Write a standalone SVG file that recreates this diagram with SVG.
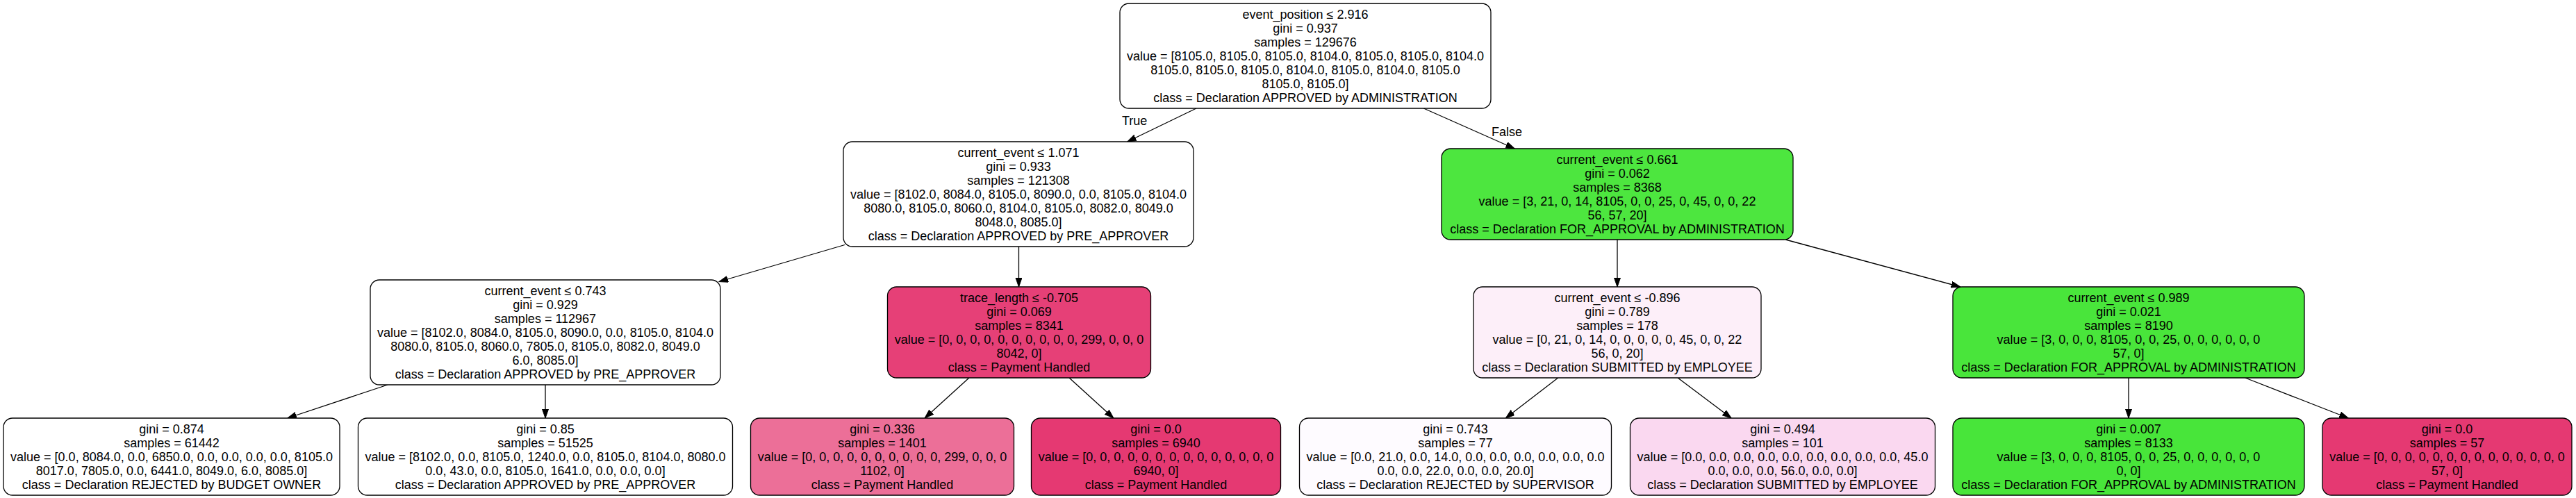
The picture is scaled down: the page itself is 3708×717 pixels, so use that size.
<svg xmlns="http://www.w3.org/2000/svg" width="3708" height="717" viewBox="0 0 3708 717">
<defs>
<style>
.nd rect { stroke: #000; stroke-width: 1.3; }
text { font-family: "Liberation Sans", Arial, Helvetica, sans-serif; font-size: 18px; text-anchor: middle; fill: #000; }
.ed line { stroke: #000; stroke-width: 1.3; marker-end: url(#arr); }
.lbl { text-anchor: start; }
</style>
<marker id="arr" markerUnits="userSpaceOnUse" markerWidth="14" markerHeight="10" refX="13" refY="4.5" orient="auto">
<path d="M0,0 L13,4.5 L0,9 z" fill="#000" stroke="#000" stroke-width="1"/>
</marker>
</defs>
<rect x="0" y="0" width="3708" height="717" fill="#fff"/>

<g id="connectors" class="ed">
<line x1="1722" y1="156" x2="1622.7" y2="204"/>
<line x1="2049.3" y1="156" x2="2180.2" y2="214"/>
<line x1="1216" y1="352.5" x2="1035" y2="405.5"/>
<line x1="1466.5" y1="355" x2="1466.5" y2="413"/>
<line x1="2328" y1="345" x2="2328" y2="413"/>
<line x1="2570.2" y1="345" x2="2821.8" y2="413"/>
<line x1="558.1" y1="554" x2="413.8" y2="602"/>
<line x1="785" y1="554" x2="785" y2="602"/>
<line x1="1394.9" y1="544" x2="1331.1" y2="602"/>
<line x1="1539.1" y1="544" x2="1602.9" y2="602"/>
<line x1="2242.7" y1="544" x2="2167.3" y2="602"/>
<line x1="2415.1" y1="544" x2="2492.2" y2="602"/>
<line x1="3064" y1="544" x2="3064" y2="602"/>
<line x1="3231.8" y1="544" x2="3380.3" y2="602"/>
<text class="lbl" x="1615" y="180">True</text>
<text class="lbl" x="2147" y="196">False</text>
</g>

<g id="node0" class="nd">
<rect x="1612" y="5" width="534" height="151" rx="13" fill="#ffffff"/>
<text x="1879"><tspan x="1879" y="26.5">event_position ≤ 2.916</tspan><tspan x="1879" y="46.5">gini = 0.937</tspan><tspan x="1879" y="66.5">samples = 129676</tspan><tspan x="1879" y="86.5">value = [8105.0, 8105.0, 8105.0, 8104.0, 8105.0, 8105.0, 8104.0</tspan><tspan x="1879" y="106.5">8105.0, 8105.0, 8105.0, 8104.0, 8105.0, 8104.0, 8105.0</tspan><tspan x="1879" y="126.5">8105.0, 8105.0]</tspan><tspan x="1879" y="146.5">class = Declaration APPROVED by ADMINISTRATION</tspan></text>
</g>

<g id="node1" class="nd">
<rect x="1214" y="204" width="504" height="151" rx="13" fill="#ffffff"/>
<text x="1466"><tspan x="1466" y="225.5">current_event ≤ 1.071</tspan><tspan x="1466" y="245.5">gini = 0.933</tspan><tspan x="1466" y="265.5">samples = 121308</tspan><tspan x="1466" y="285.5">value = [8102.0, 8084.0, 8105.0, 8090.0, 0.0, 8105.0, 8104.0</tspan><tspan x="1466" y="305.5">8080.0, 8105.0, 8060.0, 8104.0, 8105.0, 8082.0, 8049.0</tspan><tspan x="1466" y="325.5">8048.0, 8085.0]</tspan><tspan x="1466" y="345.5">class = Declaration APPROVED by PRE_APPROVER</tspan></text>
</g>

<g id="node8" class="nd">
<rect x="2075" y="214" width="506" height="131" rx="13" fill="#4de63f"/>
<text x="2328"><tspan x="2328" y="235.5">current_event ≤ 0.661</tspan><tspan x="2328" y="255.5">gini = 0.062</tspan><tspan x="2328" y="275.5">samples = 8368</tspan><tspan x="2328" y="295.5">value = [3, 21, 0, 14, 8105, 0, 0, 25, 0, 45, 0, 0, 22</tspan><tspan x="2328" y="315.5">56, 57, 20]</tspan><tspan x="2328" y="335.5">class = Declaration FOR_APPROVAL by ADMINISTRATION</tspan></text>
</g>

<g id="node2" class="nd">
<rect x="533" y="403" width="504" height="151" rx="13" fill="#ffffff"/>
<text x="785"><tspan x="785" y="424.5">current_event ≤ 0.743</tspan><tspan x="785" y="444.5">gini = 0.929</tspan><tspan x="785" y="464.5">samples = 112967</tspan><tspan x="785" y="484.5">value = [8102.0, 8084.0, 8105.0, 8090.0, 0.0, 8105.0, 8104.0</tspan><tspan x="785" y="504.5">8080.0, 8105.0, 8060.0, 7805.0, 8105.0, 8082.0, 8049.0</tspan><tspan x="785" y="524.5">6.0, 8085.0]</tspan><tspan x="785" y="544.5">class = Declaration APPROVED by PRE_APPROVER</tspan></text>
</g>

<g id="node5" class="nd">
<rect x="1277.5" y="413" width="379" height="131" rx="13" fill="#e64077"/>
<text x="1467"><tspan x="1467" y="434.5">trace_length ≤ -0.705</tspan><tspan x="1467" y="454.5">gini = 0.069</tspan><tspan x="1467" y="474.5">samples = 8341</tspan><tspan x="1467" y="494.5">value = [0, 0, 0, 0, 0, 0, 0, 0, 0, 0, 299, 0, 0, 0</tspan><tspan x="1467" y="514.5">8042, 0]</tspan><tspan x="1467" y="534.5">class = Payment Handled</tspan></text>
</g>

<g id="node9" class="nd">
<rect x="2121" y="413" width="414" height="131" rx="13" fill="#fdeff9"/>
<text x="2328"><tspan x="2328" y="434.5">current_event ≤ -0.896</tspan><tspan x="2328" y="454.5">gini = 0.789</tspan><tspan x="2328" y="474.5">samples = 178</tspan><tspan x="2328" y="494.5">value = [0, 21, 0, 14, 0, 0, 0, 0, 0, 45, 0, 0, 22</tspan><tspan x="2328" y="514.5">56, 0, 20]</tspan><tspan x="2328" y="534.5">class = Declaration SUBMITTED by EMPLOYEE</tspan></text>
</g>

<g id="node12" class="nd">
<rect x="2811" y="413" width="506" height="131" rx="13" fill="#49e53b"/>
<text x="3064"><tspan x="3064" y="434.5">current_event ≤ 0.989</tspan><tspan x="3064" y="454.5">gini = 0.021</tspan><tspan x="3064" y="474.5">samples = 8190</tspan><tspan x="3064" y="494.5">value = [3, 0, 0, 0, 8105, 0, 0, 25, 0, 0, 0, 0, 0, 0</tspan><tspan x="3064" y="514.5">57, 0]</tspan><tspan x="3064" y="534.5">class = Declaration FOR_APPROVAL by ADMINISTRATION</tspan></text>
</g>

<g id="node3" class="nd">
<rect x="5" y="602" width="484" height="111" rx="13" fill="#ffffff"/>
<text x="247"><tspan x="247" y="623.5">gini = 0.874</tspan><tspan x="247" y="643.5">samples = 61442</tspan><tspan x="247" y="663.5">value = [0.0, 8084.0, 0.0, 6850.0, 0.0, 0.0, 0.0, 0.0, 8105.0</tspan><tspan x="247" y="683.5">8017.0, 7805.0, 0.0, 6441.0, 8049.0, 6.0, 8085.0]</tspan><tspan x="247" y="703.5">class = Declaration REJECTED by BUDGET OWNER</tspan></text>
</g>

<g id="node4" class="nd">
<rect x="515.5" y="602" width="539" height="111" rx="13" fill="#ffffff"/>
<text x="785"><tspan x="785" y="623.5">gini = 0.85</tspan><tspan x="785" y="643.5">samples = 51525</tspan><tspan x="785" y="663.5">value = [8102.0, 0.0, 8105.0, 1240.0, 0.0, 8105.0, 8104.0, 8080.0</tspan><tspan x="785" y="683.5">0.0, 43.0, 0.0, 8105.0, 1641.0, 0.0, 0.0, 0.0]</tspan><tspan x="785" y="703.5">class = Declaration APPROVED by PRE_APPROVER</tspan></text>
</g>

<g id="node6" class="nd">
<rect x="1080.5" y="602" width="379" height="111" rx="13" fill="#ec6f98"/>
<text x="1270"><tspan x="1270" y="623.5">gini = 0.336</tspan><tspan x="1270" y="643.5">samples = 1401</tspan><tspan x="1270" y="663.5">value = [0, 0, 0, 0, 0, 0, 0, 0, 0, 0, 299, 0, 0, 0</tspan><tspan x="1270" y="683.5">1102, 0]</tspan><tspan x="1270" y="703.5">class = Payment Handled</tspan></text>
</g>

<g id="node7" class="nd">
<rect x="1484.5" y="602" width="359" height="111" rx="13" fill="#e53972"/>
<text x="1664"><tspan x="1664" y="623.5">gini = 0.0</tspan><tspan x="1664" y="643.5">samples = 6940</tspan><tspan x="1664" y="663.5">value = [0, 0, 0, 0, 0, 0, 0, 0, 0, 0, 0, 0, 0, 0</tspan><tspan x="1664" y="683.5">6940, 0]</tspan><tspan x="1664" y="703.5">class = Payment Handled</tspan></text>
</g>

<g id="node10" class="nd">
<rect x="1870.5" y="602" width="449" height="111" rx="13" fill="#fefbff"/>
<text x="2095"><tspan x="2095" y="623.5">gini = 0.743</tspan><tspan x="2095" y="643.5">samples = 77</tspan><tspan x="2095" y="663.5">value = [0.0, 21.0, 0.0, 14.0, 0.0, 0.0, 0.0, 0.0, 0.0, 0.0</tspan><tspan x="2095" y="683.5">0.0, 0.0, 22.0, 0.0, 0.0, 20.0]</tspan><tspan x="2095" y="703.5">class = Declaration REJECTED by SUPERVISOR</tspan></text>
</g>

<g id="node11" class="nd">
<rect x="2346.5" y="602" width="439" height="111" rx="13" fill="#fad8f0"/>
<text x="2566"><tspan x="2566" y="623.5">gini = 0.494</tspan><tspan x="2566" y="643.5">samples = 101</tspan><tspan x="2566" y="663.5">value = [0.0, 0.0, 0.0, 0.0, 0.0, 0.0, 0.0, 0.0, 0.0, 45.0</tspan><tspan x="2566" y="683.5">0.0, 0.0, 0.0, 56.0, 0.0, 0.0]</tspan><tspan x="2566" y="703.5">class = Declaration SUBMITTED by EMPLOYEE</tspan></text>
</g>

<g id="node13" class="nd">
<rect x="2811" y="602" width="506" height="111" rx="13" fill="#48e53a"/>
<text x="3064"><tspan x="3064" y="623.5">gini = 0.007</tspan><tspan x="3064" y="643.5">samples = 8133</tspan><tspan x="3064" y="663.5">value = [3, 0, 0, 0, 8105, 0, 0, 25, 0, 0, 0, 0, 0, 0</tspan><tspan x="3064" y="683.5">0, 0]</tspan><tspan x="3064" y="703.5">class = Declaration FOR_APPROVAL by ADMINISTRATION</tspan></text>
</g>

<g id="node14" class="nd">
<rect x="3343" y="602" width="359" height="111" rx="13" fill="#e53972"/>
<text x="3522.5"><tspan x="3522.5" y="623.5">gini = 0.0</tspan><tspan x="3522.5" y="643.5">samples = 57</tspan><tspan x="3522.5" y="663.5">value = [0, 0, 0, 0, 0, 0, 0, 0, 0, 0, 0, 0, 0, 0</tspan><tspan x="3522.5" y="683.5">57, 0]</tspan><tspan x="3522.5" y="703.5">class = Payment Handled</tspan></text>
</g>
</svg>
